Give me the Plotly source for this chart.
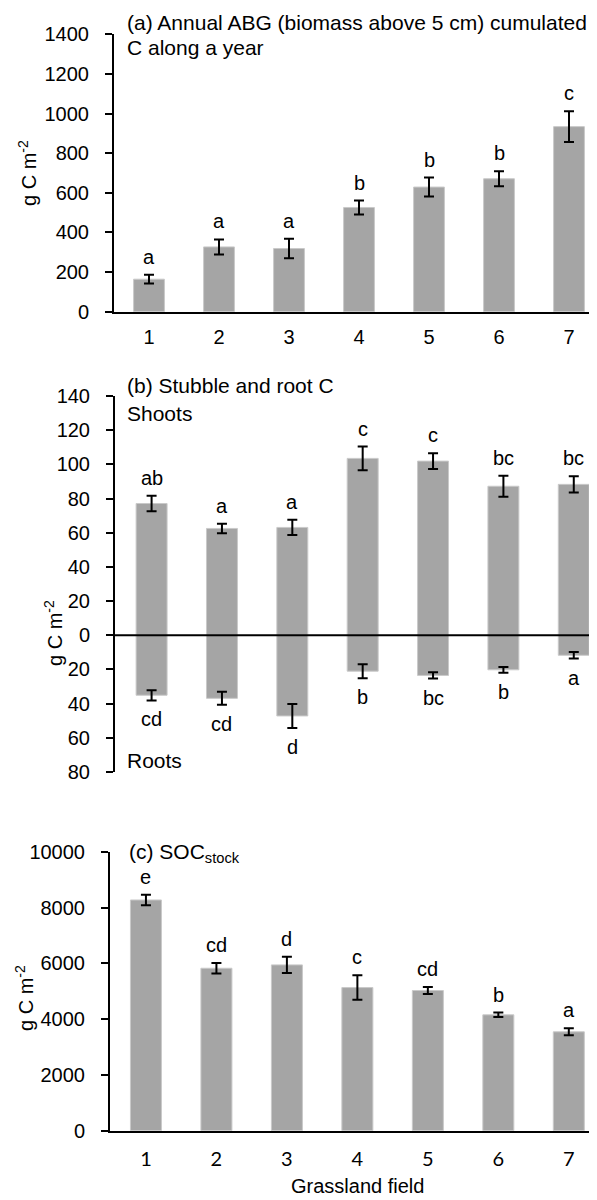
import plotly.graph_objects as go

fields = [1, 2, 3, 4, 5, 6, 7]
tick_labels = ["1", "2", "3", "4", "5", "6", "7"]

# (a) annual ABG cumulated C
abg_mean = [164, 327, 319, 526, 629, 671, 934]
abg_err = [22, 38, 49, 35, 48, 38, 78]
abg_letters = ["a", "a", "a", "b", "b", "b", "c"]

# (b) stubble (shoots) and roots C
shoot_mean = [77.1, 62.5, 63.1, 103.5, 101.9, 87.2, 88.3]
shoot_err = [4.6, 2.8, 4.5, 6.9, 4.6, 6.1, 4.7]
shoot_letters = ["ab", "a", "a", "c", "c", "bc", "bc"]
root_mean = [35.1, 36.9, 47.2, 21.0, 23.5, 20.2, 11.7]
root_err = [3.0, 3.8, 7.0, 4.1, 1.8, 1.7, 1.9]
root_letters = ["cd", "cd", "d", "b", "bc", "b", "a"]

# (c) SOC stock
soc_mean = [8270, 5823, 5943, 5131, 5024, 4153, 3544]
soc_err = [185, 185, 290, 440, 125, 80, 125]
soc_letters = ["e", "cd", "d", "c", "cd", "b", "a"]

# page body has an 8px margin: size the figure so it fills the 597x1200 view
OFF = 8
W, H = 597 - OFF, 1200 - OFF
FONT = "Liberation Sans, Arial, sans-serif"
FS = 20
BAR = "#a5a5a5"
EDGE = "#c9c9c9"


def px(p):
    return (p - OFF) / W


def py(p):
    return 1 - (p - OFF) / H


fig = go.Figure()


def bar_trace(y, err, xa, ya):
    return go.Bar(
        x=fields, y=y, width=0.44, xaxis=xa, yaxis=ya,
        marker=dict(color=BAR, line=dict(color=EDGE, width=1)),
        error_y=dict(type="data", array=err, visible=True, color="black",
                     thickness=2, width=5),
        showlegend=False,
    )


fig.add_trace(bar_trace(abg_mean, abg_err, "x", "y"))
fig.add_trace(bar_trace(shoot_mean, shoot_err, "x2", "y2"))
fig.add_trace(bar_trace([-v for v in root_mean], root_err, "x2", "y2"))
fig.add_trace(bar_trace(soc_mean, soc_err, "x3", "y3"))

ann = []


def letters(vals, errs, labs, xref, yref, above=True, shift=5):
    for x, v, e, t in zip(fields, vals, errs, labs):
        if above:
            ann.append(dict(x=x, y=v + e, xref=xref, yref=yref, text=t,
                            showarrow=False, yanchor="bottom", yshift=shift,
                            font=dict(size=FS, color="black", family=FONT)))
        else:
            ann.append(dict(x=x, y=-(v + e), xref=xref, yref=yref, text=t,
                            showarrow=False, yanchor="top", yshift=-shift,
                            font=dict(size=FS, color="black", family=FONT)))


letters(abg_mean, abg_err, abg_letters, "x", "y")
letters(shoot_mean, shoot_err, shoot_letters, "x2", "y2")
letters(root_mean, root_err, root_letters, "x2", "y2", above=False, shift=6)
letters(soc_mean, soc_err, soc_letters, "x3", "y3")


def txt(x, y, t, xanchor="left", angle=0, size=FS):
    ann.append(dict(x=px(x), y=py(y), xref="paper", yref="paper", text=t,
                    showarrow=False, xanchor=xanchor, yanchor="middle",
                    textangle=angle, borderpad=0,
                    font=dict(size=size, color="black", family=FONT)))


txt(126, 23, "(a) Annual ABG (biomass above 5 cm) cumulated", size=21)
txt(126, 47, "C along a year", size=21)
txt(126, 385, "(b) Stubble and root C", size=21)
txt(126, 413, "Shoots", size=21)
txt(126, 760, "Roots", size=21)
txt(128, 853, "(c) SOC<sub>stock</sub>", size=21)
txt(28, 173, "g C m<sup>-2</sup>", "center", -90)
txt(53, 633, "g C m<sup>-2</sup>", "center", -90)
txt(24, 998, "g C m<sup>-2</sup>", "center", -90)
txt(358, 1186, "Grassland field", "center")

tickfont = dict(size=FS, color="black", family=FONT)


def yax(dom, rng, tv, tt):
    return dict(domain=dom, range=rng, tickvals=tv, ticktext=tt,
                ticks="outside", ticklen=7, tickwidth=1.5, tickcolor="black",
                showline=True, linecolor="black", linewidth=2,
                showgrid=False, zeroline=False, tickfont=tickfont,
                ticklabelstandoff=12, automargin=False, fixedrange=True)


def xax(dom, rng, anchor, show_labels=True, font=None, standoff=6):
    return dict(domain=dom, range=rng, anchor=anchor, tickvals=fields,
                ticktext=tick_labels, showticklabels=show_labels,
                ticks="", showline=show_labels, linecolor="black", linewidth=2,
                showgrid=False, zeroline=False, tickfont=font or tickfont,
                ticklabelstandoff=standoff, automargin=False, fixedrange=True)


ya_vals = [0, 200, 400, 600, 800, 1000, 1200, 1400]
yb_vals = [-80, -60, -40, -20, 0, 20, 40, 60, 80, 100, 120, 140]
yc_vals = [0, 2000, 4000, 6000, 8000, 10000]

fig.update_layout(
    width=W, height=H,
    margin=dict(l=0, r=0, t=0, b=0),
    paper_bgcolor="white", plot_bgcolor="white",
    barmode="overlay",
    font=dict(family=FONT, size=FS, color="black"),
    xaxis=xax([px(114), 1], [0.5, 7.4], "y"),
    yaxis=dict(yax([py(311.7), py(34.3)], [0, 1400], ya_vals,
                   [str(v) for v in ya_vals]), anchor="x"),
    xaxis2=xax([px(115), 1], [0.48, 7.33], "y2", show_labels=False),
    yaxis2=dict(yax([py(772), py(396)], [-80, 140], yb_vals,
                    [str(abs(v)) for v in yb_vals]), anchor="x2"),
    xaxis3=xax([px(110), 1], [0.49, 7.4], "y3", standoff=9,
               font=dict(size=FS, color="black", family="Lato, Open Sans, sans-serif")),
    yaxis3=dict(yax([py(1130.7), py(851.7)], [0, 10000], yc_vals,
                    [str(v) for v in yc_vals]), anchor="x3"),
    annotations=ann,
    shapes=[dict(type="line", xref="paper", yref="y2", x0=px(115), x1=1,
                 y0=0, y1=0, layer="above", line=dict(color="black", width=2))],
)

fig.write_html("out.html")
